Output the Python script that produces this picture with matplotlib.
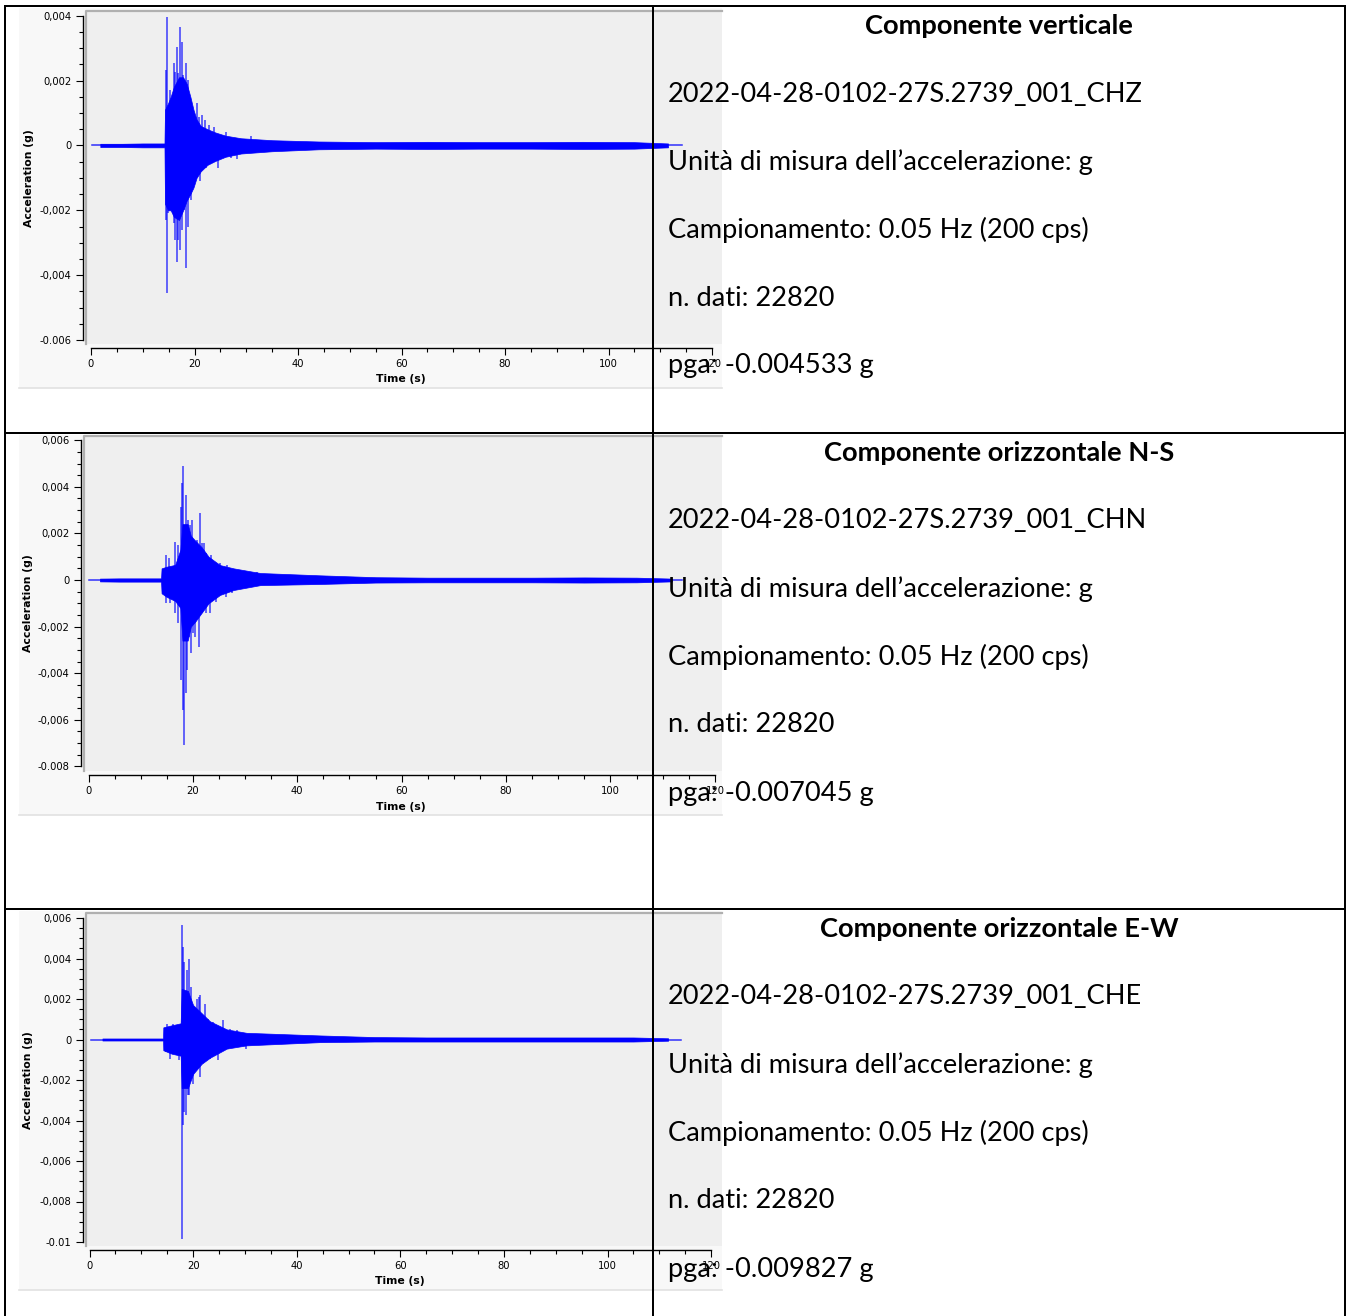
import matplotlib
matplotlib.use("Agg")
import matplotlib.pyplot as plt
from matplotlib.patches import Rectangle
from matplotlib.ticker import FixedLocator, FixedFormatter, MultipleLocator

W, H = 1346, 1316

# ---------------- data ----------------
titles = ["Componente verticale", "Componente orizzontale N-S", "Componente orizzontale E-W"]
file_ids = ["2022-04-28-0102-27S.2739_001_CHZ",
            "2022-04-28-0102-27S.2739_001_CHN",
            "2022-04-28-0102-27S.2739_001_CHE"]
unit_line = "Unità di misura dell’accelerazione: g"
sampling_line = "Campionamento: 0.05 Hz (200 cps)"
n_data = [22820, 22820, 22820]
pga = ["-0.004533", "-0.007045", "-0.009827"]

xticks = [0, 20, 40, 60, 80, 100, 120]

yticks_z = [-0.006, -0.004, -0.002, 0, 0.002, 0.004]
ylabels_z = ["-0.006", "-0,004", "-0,002", "0", "0,002", "0,004"]
yticks_n = [-0.008, -0.006, -0.004, -0.002, 0, 0.002, 0.004, 0.006]
ylabels_n = ["-0.008", "-0,006", "-0,004", "-0,002", "0", "0,002", "0,004", "0,006"]
yticks_e = [-0.01, -0.008, -0.006, -0.004, -0.002, 0, 0.002, 0.004, 0.006]
ylabels_e = ["-0.01", "-0,008", "-0,006", "-0,004", "-0,002", "0", "0,002", "0,004", "0,006"]

# record start / record end (s)
span_z = [0.2, 114.2]
span_n = [0.0, 113.7]
span_e = [0.25, 114.1]

# amplitude envelope (s, g)
env_t_z = [1.8, 6, 10, 14.2, 14.3, 14.9, 15.4, 16.0, 17.0, 17.8, 18.5, 19.2, 19.8, 20.4,
           21.2, 22.5, 24.0, 26.0, 29.0, 35.0, 44, 55, 65, 75, 85, 95, 105, 111.5]
env_hi_z = [0.00005, 0.00005, 0.00006, 0.00006, 0.0011, 0.0013, 0.0015, 0.0018, 0.0021, 0.0021,
            0.0019, 0.0015, 0.0011, 0.0008, 0.0006, 0.0005, 0.0004, 0.0003, 0.00022, 0.00016,
            0.00012, 0.0001, 0.00011, 0.0001, 0.0001, 0.00011, 0.0001, 0.00006]
env_lo_z = [-0.00005, -0.00005, -0.00006, -0.00006, -0.0018, -0.002, -0.002, -0.0022, -0.0023, -0.002,
            -0.0017, -0.0015, -0.0013, -0.001, -0.0008, -0.0006, -0.00048, -0.00035, -0.00025, -0.00018,
            -0.00012, -0.0001, -0.00011, -0.0001, -0.0001, -0.00011, -0.0001, -0.00006]

env_t_n = [2.2, 6, 10, 13.9, 14.0, 14.95, 16.6, 17.6, 18.0, 19.0, 19.6, 20.4, 21.7, 23.0,
           25.2, 27.8, 32.9, 44.4, 55, 65, 75, 85, 95, 105, 111.8]
env_hi_n = [0.00006, 0.00007, 0.00007, 0.00007, 0.0005, 0.00057, 0.00065, 0.0013, 0.0024, 0.0024,
            0.0019, 0.0017, 0.0014, 0.001, 0.00064, 0.0005, 0.0003, 0.0002, 0.00012, 0.0001,
            0.0001, 0.0001, 0.00011, 0.0001, 0.00006]
env_lo_n = [-0.00006, -0.00007, -0.00007, -0.00007, -0.00057, -0.00072, -0.0009, -0.0012, -0.0026, -0.0026,
            -0.002, -0.0018, -0.0014, -0.001, -0.00064, -0.00043, -0.00022, -0.00017, -0.00011, -0.0001,
            -0.0001, -0.0001, -0.00011, -0.0001, -0.00006]

env_t_e = [2.5, 6, 10, 14.2, 14.25, 15.86, 17.6, 17.8, 19.0, 20.0, 21.65, 23.25, 26.5, 30.3,
           44.5, 55, 65, 75, 85, 95, 105, 111.7]
env_hi_e = [0.00005, 0.00005, 0.00005, 0.00005, 0.0006, 0.0007, 0.0008, 0.0025, 0.0024, 0.0017,
            0.0013, 0.0009, 0.0005, 0.00033, 0.0002, 0.00012, 0.0001, 0.0001, 0.0001, 0.0001,
            0.0001, 0.00006]
env_lo_e = [-0.00005, -0.00005, -0.00005, -0.00005, -0.00053, -0.0007, -0.0008, -0.0024, -0.0024, -0.0017,
            -0.0012, -0.0009, -0.00045, -0.00029, -0.00013, -0.0001, -0.0001, -0.0001, -0.0001, -0.0001,
            -0.0001, -0.00006]

# individual peaks sticking out of the envelope (s, g)
spike_t_z = [14.49, 14.62, 15.35, 15.7, 16.0, 16.3, 16.57, 16.9, 17.27, 17.5, 17.8, 18.4, 18.73,
             19.25, 19.6, 20.4, 20.9, 21.5, 22.1, 22.8, 23.75, 26.0, 30.9,
             14.49, 14.67, 14.8, 16.0, 16.3, 16.57, 16.9, 17.2, 17.5, 18.0, 18.3, 18.73, 19.25,
             20.0, 21.0, 22.3, 24.5, 27.0, 28.3]
spike_v_z = [0.00232, 0.00395, 0.00171, 0.00145, 0.00254, 0.00227, 0.00304, 0.00222, 0.00366, 0.0032,
             0.00217, 0.00254, 0.00202, 0.00119, 0.00109, 0.0013, 0.00089, 0.00094, 0.00078, 0.00063,
             0.00058, 0.0004, 0.0003,
             -0.0023, -0.00456, -0.00209, -0.0024, -0.00292, -0.00358, -0.00292, -0.00322, -0.00261,
             -0.00199, -0.00379, -0.0025, -0.00168, -0.00107, -0.0011, -0.0007, -0.0007, -0.0004, -0.00042]

spike_t_n = [14.85, 15.49, 16.6, 17.2, 17.66, 17.85, 18.1, 18.6, 19.1, 19.4, 19.75, 20.1, 20.86,
             21.35, 21.7, 22.2, 22.6, 23.45, 24.2, 25.2, 26.6, 28.7, 32.2,
             14.85, 15.6, 16.6, 17.2, 17.66, 18.04, 18.23, 18.6, 18.85, 19.3, 19.55, 20.1, 20.4,
             21.2, 21.7, 22.5, 23.3, 24.4, 26.4, 27.4]
spike_v_n = [0.00107, 0.00093, 0.00164, 0.0015, 0.00315, 0.00415, 0.00489, 0.00365, 0.00258, 0.00236,
             0.00258, 0.00172, 0.00172, 0.00286, 0.00157, 0.00157, 0.00114, 0.00107, 0.00064, 0.00072,
             0.00064, 0.00043, 0.00036,
             -0.001, -0.001, -0.00143, -0.00186, -0.00429, -0.00558, -0.00708, -0.00486, -0.00386,
             -0.00243, -0.00315, -0.00229, -0.00243, -0.00286, -0.00143, -0.00143, -0.00143, -0.00093,
             -0.00072, -0.00057]

spike_t_e = [14.9, 16.2, 17.8, 18.1, 18.3, 18.74, 19.26, 19.58, 20.03, 20.8, 21.1, 21.4, 22.25,
             22.9, 23.75, 25.8, 27.1, 28.4,
             14.8, 15.5, 17.2, 17.8, 17.99, 18.3, 18.6, 18.95, 19.26, 19.9, 20.8, 21.4, 22.1,
             23.25, 24.9, 26.7, 30.15]
spike_v_e = [0.00078, 0.00078, 0.00564, 0.00457, 0.00383, 0.00342, 0.00399, 0.00259, 0.0015, 0.00201,
             0.0021, 0.00218, 0.00177, 0.00103, 0.00087, 0.00095, 0.00053, 0.00045,
             -0.00062, -0.00095, -0.00103, -0.00984, -0.00424, -0.00358, -0.00374, -0.00276, -0.00276,
             -0.00218, -0.00128, -0.00185, -0.00095, -0.00095, -0.00103, -0.00045, -0.00045]

# ---------------- layout (pixels of the reference) ----------------
# plot area box, x pixel of t=0, px per second, y pixel of 0 g, px per g
panels = [
    dict(box=(86, 11, 722, 344), x0=91.0, pps=5.175, y0=145.4, ppu=32450,
         yt=yticks_z, yl=ylabels_z, span=span_z, et=env_t_z, eh=env_hi_z, el=env_lo_z,
         st=spike_t_z, sv=spike_v_z, shot=(8, 388), ylab=(29, 178.5), xlab=(401, 379)),
    dict(box=(84, 436, 722, 771), x0=88.5, pps=5.22, y0=580.0, ppu=23300,
         yt=yticks_n, yl=ylabels_n, span=span_n, et=env_t_n, eh=env_hi_n, el=env_lo_n,
         st=spike_t_n, sv=spike_v_n, shot=(435, 815), ylab=(28, 603), xlab=(401, 807)),
    dict(box=(86, 913, 722, 1246), x0=89.5, pps=5.18, y0=1039.5, ppu=20250,
         yt=yticks_e, yl=ylabels_e, span=span_e, et=env_t_e, eh=env_hi_e, el=env_lo_e,
         st=spike_t_e, sv=spike_v_e, shot=(911, 1290), ylab=(28, 1080), xlab=(400, 1281)),
]
title_y = [26, 453, 929]

BLUE = "#0000ff"
PT = 0.72  # points per pixel at 100 dpi

fig = plt.figure(figsize=(W / 100, H / 100), dpi=100)
fig.patch.set_facecolor("white")

bg = fig.add_axes([0, 0, 1, 1], zorder=0)
bg.set_xlim(0, W)
bg.set_ylim(H, 0)
bg.axis("off")

top = fig.add_axes([0, 0, 1, 1], zorder=5)
top.set_xlim(0, W)
top.set_ylim(H, 0)
top.patch.set_alpha(0)
top.axis("off")

for p in panels:
    s0, s1 = p["shot"]
    # screenshot background
    bg.add_patch(Rectangle((19, s0), 703, s1 - s0, fc="#f8f8f8", ec="none"))
    bg.plot([19, 722], [s1, s1], color="#e2e2e2", lw=1.2)

    bx0, by0, bx1, by1 = p["box"]
    ax = fig.add_axes([bx0 / W, 1 - by1 / H, (bx1 - bx0) / W, (by1 - by0) / H], zorder=1)
    ax.set_facecolor("#efefef")
    ax.set_xlim((bx0 - p["x0"]) / p["pps"], (bx1 - p["x0"]) / p["pps"])
    ax.set_ylim((p["y0"] - by1) / p["ppu"], (p["y0"] - by0) / p["ppu"])

    # trace: flat line, dense envelope, single peaks
    ax.plot(p["span"], [0, 0], color=BLUE, lw=1.1, alpha=0.8)
    ax.fill_between(p["et"], p["el"], p["eh"], color=BLUE, lw=0.5)
    ax.vlines(p["st"], 0, p["sv"], color=BLUE, lw=1.1, alpha=0.75)

    for side in ["top", "right"]:
        ax.spines[side].set_visible(False)
    ax.spines["left"].set_position(("outward", 3.5 * PT))
    ax.spines["left"].set_bounds(p["yt"][0], p["yt"][-1])
    ax.spines["bottom"].set_position(("outward", 4 * PT))
    ax.spines["bottom"].set_bounds(xticks[0], xticks[-1])
    for side in ["left", "bottom"]:
        ax.spines[side].set_linewidth(1.0)
    # sunken border of the plot area
    ax.plot([0, 0, 1], [0, 1, 1], transform=ax.transAxes, color="#b0b0b0", lw=1.6, clip_on=False)

    ax.yaxis.set_major_locator(FixedLocator(p["yt"]))
    ax.yaxis.set_major_formatter(FixedFormatter(p["yl"]))
    ax.yaxis.set_minor_locator(MultipleLocator(0.0005))
    ax.xaxis.set_major_locator(FixedLocator(xticks))
    ax.xaxis.set_minor_locator(MultipleLocator(5))
    ax.tick_params(axis="y", which="major", length=7 * PT, width=0.8, pad=3, labelsize=7.2)
    ax.tick_params(axis="y", which="minor", length=4 * PT, width=0.8)
    ax.tick_params(axis="x", which="major", length=7 * PT, width=0.8, pad=3, labelsize=7.2)
    ax.tick_params(axis="x", which="minor", length=3.5 * PT, width=0.8)

    top.text(p["ylab"][0], p["ylab"][1], "Acceleration (g)", rotation=90, ha="center", va="center",
             fontsize=7.8, fontweight="bold", family="DejaVu Sans")
    top.text(p["xlab"][0], p["xlab"][1], "Time (s)", ha="center", va="center",
             fontsize=7.8, fontweight="bold", family="DejaVu Sans")

# right column text
for i in range(3):
    ty = title_y[i]
    top.text(999, ty, titles[i], ha="center", va="center", fontsize=19.6, fontweight="bold", family="Lato")
    lines = [file_ids[i], unit_line, sampling_line, "n. dati: %d" % n_data[i], "pga: %s g" % pga[i]]
    for k, line in enumerate(lines):
        top.text(668, ty + 68 * (k + 1), line, ha="left", va="center", fontsize=19.6, family="Lato")

# table grid
lw = 2 * PT
top.plot([5, 5], [6, H], color="black", lw=lw)
top.plot([1345, 1345], [6, H], color="black", lw=lw)
top.plot([5, 1345], [6, 6], color="black", lw=lw)
top.plot([5, 1345], [433, 433], color="black", lw=lw)
top.plot([5, 1345], [909, 909], color="black", lw=lw)
top.plot([653, 653], [6, H], color="black", lw=lw)

fig.savefig("out.png", dpi=100)
